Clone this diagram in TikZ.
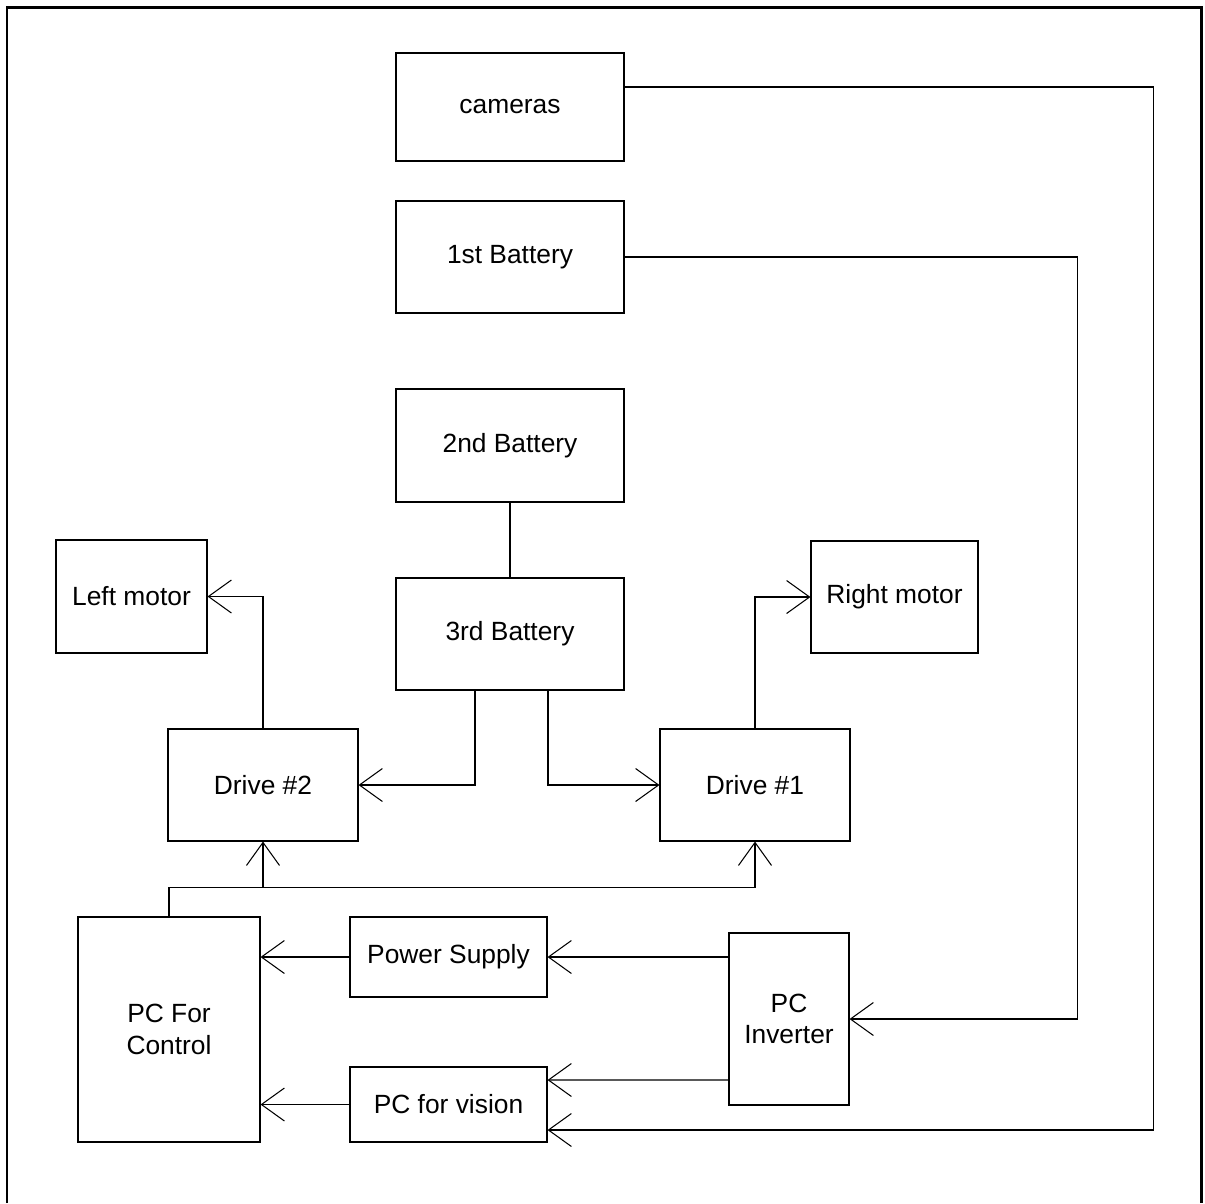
\documentclass[tikz,border=0pt]{standalone}
\usepackage{fontspec}
\setmainfont{Liberation Sans}
\usepackage{tikz}
\usetikzlibrary{positioning, arrows.meta}

\begin{document}
\begin{tikzpicture}[
        unit/.style={
            rectangle, draw=black, fill=white, line width=0.6pt,
            inner sep=0pt, font=\fontsize{15}{18}\selectfont, align=center
        },
        arrow/.style={-{Straight Barb[length=4.6mm, width=6.6mm]}, line width=0.6pt},
        link/.style={line width=0.6pt}
    ]
        \useasboundingbox (0,0) rectangle (24.1,-24.06);
        \draw[line width=1.7pt] (0.14,-24.06) -- (0.14,-0.14) -- (24.03,-0.14) -- (24.03,-24.06);
        % batteries and cameras
        \node[unit, minimum width=4.56cm, minimum height=2.16cm] (cameras) at (10.2,-2.14) {cameras};
        \node[unit, minimum width=4.56cm, minimum height=2.24cm] (bat1) at (10.2,-5.14) {1st Battery};
        \node[unit, minimum width=4.56cm, minimum height=2.26cm] (bat2) at (10.2,-8.91) {2nd Battery};
        \node[unit, minimum width=4.56cm, minimum height=2.24cm] (bat3) at (10.2,-12.68) {3rd Battery};
        % motors and drives
        \node[unit, minimum width=3.02cm, minimum height=2.26cm] (lmotor) at (2.63,-11.93) {Left motor};
        \node[unit, minimum width=3.34cm, minimum height=2.24cm] (rmotor) at (17.89,-11.94) {Right motor};
        \node[unit, minimum width=3.8cm, minimum height=2.24cm] (drive2) at (5.26,-15.7) {Drive \#2};
        \node[unit, minimum width=3.8cm, minimum height=2.24cm] (drive1) at (15.1,-15.7) {Drive \#1};
        % computers
        \node[unit, minimum width=3.64cm, minimum height=4.5cm] (pcctrl) at (3.38,-20.59) {PC For\\Control};
        \node[unit, minimum width=3.94cm, minimum height=1.6cm] (psu) at (8.97,-19.14) {Power Supply};
        \node[unit, minimum width=3.94cm, minimum height=1.5cm] (pcvis) at (8.97,-22.09) {PC for vision};
        \node[unit, minimum width=2.4cm, minimum height=3.44cm] (inverter) at (15.78,-20.38) {PC\\Inverter};
        % connections
        \draw[arrow] ([yshift=4mm]cameras.east) -- ++(10.58,0) |- ([yshift=-5.1mm]pcvis.east);
        \draw[arrow] (bat1.east) -- ++(9.06,0) |- (inverter.east);
        \draw[link] (bat2) -- (bat3);
        \draw[arrow] ([xshift=-7mm]bat3.south) |- (drive2.east);
        \draw[arrow] ([xshift=7.6mm]bat3.south) |- (drive1.west);
        \draw[arrow] (drive2.north) |- (lmotor.east);
        \draw[arrow] (drive1.north) |- (rmotor.west);
        \draw[arrow] (pcctrl.north) -- ++(0,0.58) -| (drive2.south);
        \draw[arrow] (pcctrl.north) -- ++(0,0.58) -| (drive1.south);
        \draw[arrow] (inverter.west |- psu.east) -- (psu.east);
        \draw[arrow] (psu.west) -- (pcctrl.east |- psu.west);
        \draw[arrow] ([yshift=-12.2mm]inverter.west) -- ([yshift=4.9mm]pcvis.east);
        \draw[arrow] (pcvis.west) -- (pcctrl.east |- pcvis.west);
    \end{tikzpicture}
\end{document}
